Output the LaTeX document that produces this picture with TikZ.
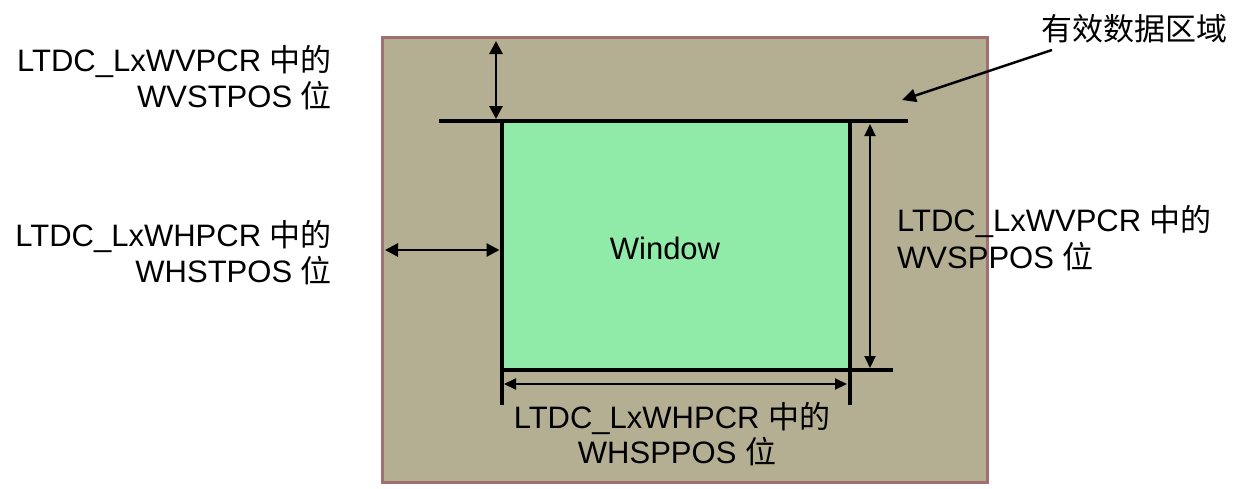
\documentclass[tikz,border=0pt]{standalone}
\usepackage{fontspec}
\setmainfont{Liberation Sans}
\newfontfamily\cjk{Noto Sans CJK SC}
\usetikzlibrary{arrows.meta}
\definecolor{areafill}{RGB}{180,174,147}
\definecolor{areaborder}{RGB}{160,112,112}
\definecolor{winfill}{RGB}{144,234,168}
\tikzset{
  lbl/.style={inner sep=0pt, font=\fontsize{31}{37}\selectfont},
  edgeline/.style={line width=4.5pt},
  dimarrow/.style={line width=2.8pt, {Triangle[length=13pt,width=13pt]}-{Triangle[length=13pt,width=13pt]}},
  thinarrow/.style={line width=2pt, {Triangle[length=12pt,width=11pt]}-{Triangle[length=12pt,width=11pt]}},
  ptrarrow/.style={line width=2.5pt, -{Triangle[length=14pt,width=13pt]}}
}
\begin{document}
\begin{tikzpicture}[x=1pt,y=-1pt]
\useasboundingbox (0,0) rectangle (1234,488);
% outer area
\coordinate (aNW) at (382.5,37.5);
\coordinate (aSE) at (987.5,482.5);
\draw[fill=areafill, draw=areaborder, line width=3pt] (aNW) rectangle (aSE);
% window
\coordinate (wNW) at (502,121);
\coordinate (wSE) at (850,370);
\fill[winfill] (wNW) rectangle (wSE);
% boundary lines
\coordinate (tL) at (439,121); \coordinate (tR) at (908,121);
\coordinate (lT) at (502,119); \coordinate (lB) at (502,405);
\coordinate (rT) at (850,119); \coordinate (rB) at (850,405);
\coordinate (bL) at (502,370); \coordinate (bR) at (893,370);
\draw[edgeline] (tL) -- (tR);
\draw[edgeline] (lT) -- (lB);
\draw[edgeline] (rT) -- (rB);
\draw[edgeline] (bL) -- (bR);
% dimension arrows
\coordinate (vsT) at (496,41); \coordinate (vsB) at (496,119);
\draw[dimarrow] (vsT) -- (vsB);
\coordinate (hsL) at (385,250); \coordinate (hsR) at (499.5,250);
\draw[dimarrow] (hsL) -- (hsR);
\coordinate (vpT) at (870,124); \coordinate (vpB) at (870,368);
\draw[thinarrow] (vpT) -- (vpB);
\coordinate (hpL) at (504,384); \coordinate (hpR) at (847,384);
\draw[thinarrow] (hpL) -- (hpR);
% pointer to area
\coordinate (pS) at (1052,50); \coordinate (pE) at (902,100);
\draw[ptrarrow] (pS) -- (pE);
% texts
\node[lbl, anchor=base] (win) at (665,259) {Window};
\node[lbl, anchor=base west] (area) at (1041,40) {\cjk 有效数据区域};
\node[lbl, anchor=base east] (vst1) at (332,71) {LTDC\_LxWVPCR {\cjk 中的}};
\node[lbl, anchor=base east] (vst2) at (332,107) {WVSTPOS {\cjk 位}};
\node[lbl, anchor=base east] (hst1) at (332,246) {LTDC\_LxWHPCR {\cjk 中的}};
\node[lbl, anchor=base east] (hst2) at (332,282) {WHSTPOS {\cjk 位}};
\node[lbl, anchor=base west] (vsp1) at (897,231) {LTDC\_LxWVPCR {\cjk 中的}};
\node[lbl, anchor=base west] (vsp2) at (897,268) {WVSPPOS {\cjk 位}};
\node[lbl, anchor=base] (hsp1) at (672,428) {LTDC\_LxWHPCR {\cjk 中的}};
\node[lbl, anchor=base] (hsp2) at (677,463) {WHSPPOS {\cjk 位}};
\end{tikzpicture}
\end{document}
